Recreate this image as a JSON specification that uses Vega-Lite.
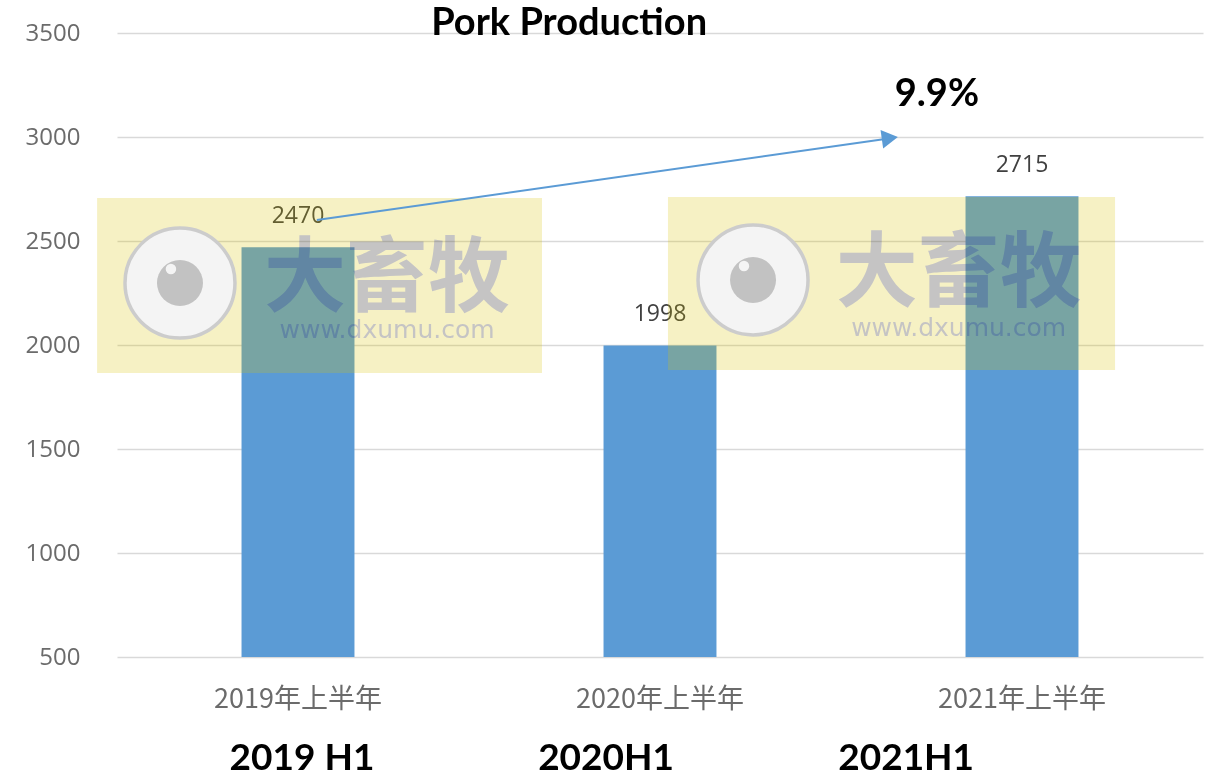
{
  "$schema": "https://vega.github.io/schema/vega-lite/v6.json",
  "width": 1086,
  "height": 624,
  "autosize": {"type": "none"},
  "padding": {"left": 117, "top": 33, "right": 14, "bottom": 120},
  "background": "white",
  "config": {"view": {"stroke": null}},
  "datasets": {
    "bars": [
      {"period": "2019年上半年", "value": 2470},
      {"period": "2020年上半年", "value": 1998},
      {"period": "2021年上半年", "value": 2715}
    ],
    "wm": [
      {"x1": -0.055, "x2": 1.174, "y1": 2707, "y2": 1865, "cx": 0.174, "cy": 2298, "hx": 0.149, "hy": 2365, "tx": 0.746, "ty": 2313, "wy": 2072, "logo": "大畜牧", "url": "www.dxumu.com"},
      {"x1": 1.522, "x2": 2.757, "y1": 2712, "y2": 1880, "cx": 1.757, "cy": 2313, "hx": 1.732, "hy": 2380, "tx": 2.325, "ty": 2337, "wy": 2082, "logo": "大畜牧", "url": "www.dxumu.com"}
    ],
    "arrow": [
      {"u": 0.552, "v": 2601},
      {"u": 2.122, "v": 2990}
    ],
    "head": [
      {"u": 2.135, "v": 2995}
    ],
    "titles": [
      {"u": 1.249, "v": 3488, "text": "Pork Production"},
      {"u": 2.265, "v": 3149, "text": "9.9%"}
    ],
    "periods": [
      {"u": 0.511, "v": -43, "text": "2019 H1"},
      {"u": 1.351, "v": -43, "text": "2020H1"},
      {"u": 2.18, "v": -43, "text": "2021H1"}
    ]
  },
  "layer": [
    {
      "data": {"name": "bars"},
      "encoding": {
        "x": {
          "field": "period", "type": "nominal", "sort": null,
          "scale": {"paddingInner": 0.688, "paddingOuter": 0.344},
          "axis": {
            "title": null, "labelAngle": 0, "ticks": false, "domain": false,
            "labelFont": "Noto Sans CJK SC", "labelFontSize": 27, "labelColor": "#6b6b6b",
            "labelPadding": 29, "labelBaseline": "top"
          }
        },
        "y": {
          "field": "value", "type": "quantitative",
          "scale": {"domain": [500, 3500], "nice": false, "zero": false},
          "axis": {
            "title": null, "values": [500, 1000, 1500, 2000, 2500, 3000, 3500], "format": "d",
            "grid": true, "gridColor": "#d9d9d9", "gridWidth": 1.5,
            "domain": false, "ticks": false, "labelPadding": 37,
            "labelFont": "Open Sans", "labelFontSize": 24, "labelColor": "#6b6b6b"
          }
        }
      },
      "layer": [
        {"mark": {"type": "bar", "color": "#5B9BD5"}, "encoding": {"y2": {"datum": 500}}},
        {
          "mark": {"type": "text", "baseline": "alphabetic", "dy": -24, "font": "Open Sans", "fontSize": 23, "color": "#404040"},
          "encoding": {"text": {"field": "value", "type": "quantitative", "format": "d"}}
        }
      ]
    },
    {
      "data": {"name": "wm"},
      "mark": {"type": "rect", "color": "#d9c200", "opacity": 0.23},
      "encoding": {
        "x": {"field": "x1", "type": "quantitative", "scale": {"domain": [0, 3], "nice": false, "zero": false}, "axis": null},
        "x2": {"field": "x2"},
        "y": {"field": "y1", "type": "quantitative", "scale": {"domain": [500, 3500], "nice": false, "zero": false}},
        "y2": {"field": "y2"}
      }
    },
    {
      "data": {"name": "wm"},
      "mark": {"type": "point", "shape": "circle", "filled": true, "size": 12100, "fill": "#f4f4f4", "fillOpacity": 1, "stroke": "#cccccc", "strokeWidth": 3.5, "opacity": 1},
      "encoding": {
        "x": {"field": "cx", "type": "quantitative", "scale": {"domain": [0, 3], "nice": false, "zero": false}, "axis": null},
        "y": {"field": "cy", "type": "quantitative", "scale": {"domain": [500, 3500], "nice": false, "zero": false}}
      }
    },
    {
      "data": {"name": "wm"},
      "mark": {"type": "point", "shape": "circle", "filled": true, "size": 2116, "color": "#c2c2c2", "opacity": 1},
      "encoding": {
        "x": {"field": "cx", "type": "quantitative", "scale": {"domain": [0, 3], "nice": false, "zero": false}, "axis": null},
        "y": {"field": "cy", "type": "quantitative", "scale": {"domain": [500, 3500], "nice": false, "zero": false}}
      }
    },
    {
      "data": {"name": "wm"},
      "mark": {"type": "point", "shape": "circle", "filled": true, "size": 110, "color": "#f4f4f4", "opacity": 1},
      "encoding": {
        "x": {"field": "hx", "type": "quantitative", "scale": {"domain": [0, 3], "nice": false, "zero": false}, "axis": null},
        "y": {"field": "hy", "type": "quantitative", "scale": {"domain": [500, 3500], "nice": false, "zero": false}}
      }
    },
    {
      "data": {"name": "wm"},
      "mark": {"type": "text", "font": "Noto Sans CJK SC", "fontWeight": "bold", "fontSize": 82, "letterSpacing": 7, "color": "#cdd0ff", "blend": "multiply", "baseline": "middle", "align": "center"},
      "encoding": {
        "x": {"field": "tx", "type": "quantitative", "scale": {"domain": [0, 3], "nice": false, "zero": false}, "axis": null},
        "y": {"field": "ty", "type": "quantitative", "scale": {"domain": [500, 3500], "nice": false, "zero": false}},
        "text": {"field": "logo"}
      }
    },
    {
      "data": {"name": "wm"},
      "mark": {"type": "text", "font": "DejaVu Sans", "fontSize": 25, "letterSpacing": 3, "color": "#cdd0ff", "blend": "multiply", "baseline": "middle", "align": "center"},
      "encoding": {
        "x": {"field": "tx", "type": "quantitative", "scale": {"domain": [0, 3], "nice": false, "zero": false}, "axis": null},
        "y": {"field": "wy", "type": "quantitative", "scale": {"domain": [500, 3500], "nice": false, "zero": false}},
        "text": {"field": "url"}
      }
    },
    {
      "data": {"name": "arrow"},
      "mark": {"type": "line", "color": "#5B9BD5", "strokeWidth": 2},
      "encoding": {
        "x": {"field": "u", "type": "quantitative", "scale": {"domain": [0, 3], "nice": false, "zero": false}, "axis": null},
        "y": {"field": "v", "type": "quantitative", "scale": {"domain": [500, 3500], "nice": false, "zero": false}}
      }
    },
    {
      "data": {"name": "head"},
      "mark": {"type": "point", "shape": "triangle-right", "filled": true, "size": 350, "angle": -8, "color": "#5B9BD5", "opacity": 1},
      "encoding": {
        "x": {"field": "u", "type": "quantitative", "scale": {"domain": [0, 3], "nice": false, "zero": false}, "axis": null},
        "y": {"field": "v", "type": "quantitative", "scale": {"domain": [500, 3500], "nice": false, "zero": false}}
      }
    },
    {
      "data": {"name": "titles"},
      "mark": {"type": "text", "font": "Lato", "fontWeight": "bold", "fontSize": 38, "color": "black", "baseline": "alphabetic", "align": "center"},
      "encoding": {
        "x": {"field": "u", "type": "quantitative", "scale": {"domain": [0, 3], "nice": false, "zero": false}, "axis": null},
        "y": {"field": "v", "type": "quantitative", "scale": {"domain": [500, 3500], "nice": false, "zero": false}},
        "text": {"field": "text"}
      }
    },
    {
      "data": {"name": "periods"},
      "mark": {"type": "text", "font": "Lato", "fontWeight": "bold", "fontSize": 37, "color": "black", "baseline": "alphabetic", "align": "center"},
      "encoding": {
        "x": {"field": "u", "type": "quantitative", "scale": {"domain": [0, 3], "nice": false, "zero": false}, "axis": null},
        "y": {"field": "v", "type": "quantitative", "scale": {"domain": [500, 3500], "nice": false, "zero": false}},
        "text": {"field": "text"}
      }
    }
  ],
  "resolve": {"scale": {"x": "independent"}}
}
